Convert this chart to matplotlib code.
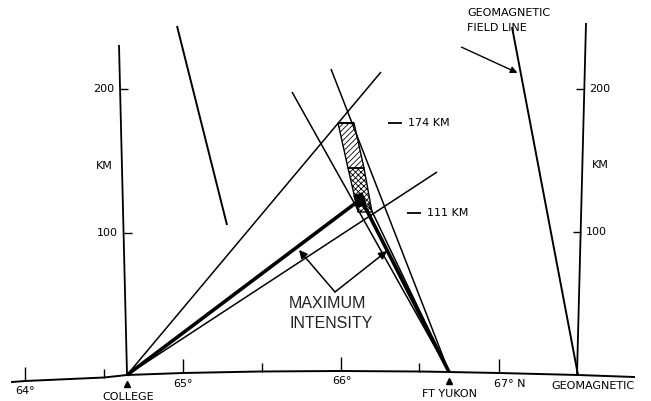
import matplotlib.pyplot as plt
from matplotlib.patches import Polygon

# diagram coordinates (image-like units, y grows downward)
ground_x = [12, 25, 104, 127, 183, 260, 340, 419, 449, 499, 578, 634]
ground_y = [382, 381, 377.5, 375, 373, 371.5, 371, 371.5, 372, 373, 375, 377]

lat_labels = ['64°', '65°', '66°', '67° N']
lat_tick_x = [25, 183, 341, 499]
lat_tick_base = [381, 373, 371, 372.5]
minor_tick_x = [104, 262, 419]
minor_tick_base = [377.5, 371.5, 371.5]

stations = ['COLLEGE', 'FT YUKON']
station_x = [127, 449]
station_y = [375, 372]

# km scales on both sides
km_labels = ['200', '100']
left_axis = [(119, 45), (127, 374)]
left_tick_y = [89, 233]
right_axis = [(586, 23), (577, 375)]
right_tick_y = [89, 232]

# sight lines: (end_x, end_y, thick?)
college_rays = [(381, 72, False), (361, 199, True), (437, 172, False)]
yukon_rays = [(292, 92, False), (331, 69, False), (361, 199, True), (368, 203, False)]

field_line = [(512, 27), (578, 375)]
other_line = [(177, 26), (227, 225)]

# emission region between 174 and 111 km
upper_region = [(338, 123), (354, 123), (364, 168), (348, 168)]
lower_region = [(348, 168), (364, 168), (372, 212), (358, 212)]
blob = [(354, 196), (362, 193), (366, 204), (358, 207)]

alt_labels = ['174 KM', '111 KM']
alt_y = [123, 213]
alt_x = [388, 407]


def line(ax, p, q, lw=1.1):
    ax.plot([p[0], q[0]], [p[1], q[1]], color='black', lw=lw, solid_capstyle='butt')


def axis_x(a, y):
    (x0, y0), (x1, y1) = a
    return x0 + (x1 - x0) * (y - y0) / (y1 - y0)


plt.rcParams['hatch.linewidth'] = 0.6
fig = plt.figure(figsize=(6.51, 4.01), dpi=100)
ax = fig.add_axes([0, 0, 1, 1])
ax.set_xlim(0, 651)
ax.set_ylim(401, 0)
ax.axis('off')

lab = dict(fontsize=8, family='DejaVu Sans', color='black')

# ground
ax.plot(ground_x, ground_y, color='black', lw=1.4)
for x, b, t in zip(lat_tick_x, lat_tick_base, lat_labels):
    line(ax, (x, b), (x, b - 14), lw=1.0)
for x, b in zip(minor_tick_x, minor_tick_base):
    line(ax, (x, b), (x, b - 9), lw=1.0)
ax.text(25, 391, lat_labels[0], ha='center', va='center', **lab)
ax.text(183, 384, lat_labels[1], ha='center', va='center', **lab)
ax.text(342, 381, lat_labels[2], ha='center', va='center', **lab)
ax.text(510, 384, lat_labels[3], ha='center', va='center', **lab)
ax.text(593, 386, 'GEOMAGNETIC', ha='center', va='center', **lab)

for name, x, y, dy in zip(stations, station_x, station_y, [22, 22]):
    ax.plot(x, y + 9, marker='^', ms=5, color='black')
    ax.text(x + 1, y + dy, name, ha='center', va='center', **lab)

# km axes
line(ax, *left_axis, lw=1.3)
for y, t in zip(left_tick_y, km_labels):
    x = axis_x(left_axis, y)
    line(ax, (x, y), (x + 8, y), lw=1.0)
    ax.text(x - 6, y, t, ha='right', va='center', **lab)
ax.text(104, 166, 'KM', ha='center', va='center', **lab)

line(ax, *right_axis, lw=1.3)
for y, t in zip(right_tick_y, km_labels):
    x = axis_x(right_axis, y)
    line(ax, (x - 8, y), (x, y), lw=1.0)
    ax.text(x + 5, y, t, ha='left', va='center', **lab)
ax.text(600, 165, 'KM', ha='center', va='center', **lab)

# rays
for ex, ey, thick in college_rays:
    line(ax, (station_x[0], station_y[0]), (ex, ey), lw=2.6 if thick else 1.1)
for ex, ey, thick in yukon_rays:
    line(ax, (station_x[1], station_y[1]), (ex, ey), lw=2.6 if thick else 1.1)

line(ax, *field_line, lw=1.4)
line(ax, *other_line, lw=1.4)

ax.add_patch(Polygon(upper_region, closed=True, fill=False, hatch='//////', lw=1.0, ec='black'))
ax.add_patch(Polygon(lower_region, closed=True, fill=False, hatch='xxxxxx', lw=1.0, ec='black'))
ax.add_patch(Polygon(blob, closed=True, color='black'))
line(ax, upper_region[0], upper_region[1], lw=1.5)

for t, y, x in zip(alt_labels, alt_y, alt_x):
    line(ax, (x, y), (x + 14, y), lw=1.3)
    ax.text(x + 20, y, t, ha='left', va='center', **lab)

# field line label
ax.text(467, 13, 'GEOMAGNETIC', ha='left', va='center', **lab)
ax.text(467, 28, 'FIELD LINE', ha='left', va='center', **lab)
ax.annotate('', xy=(520, 74), xytext=(459, 46),
            arrowprops=dict(arrowstyle='-|>', color='black', lw=1.0, mutation_scale=10))

# maximum intensity
apex = (335, 292)
ax.annotate('', xy=(299, 250), xytext=apex,
            arrowprops=dict(arrowstyle='-|>', color='black', lw=1.1, mutation_scale=12,
                            shrinkA=0, shrinkB=0))
ax.annotate('', xy=(387, 251), xytext=apex,
            arrowprops=dict(arrowstyle='-|>', color='black', lw=1.1, mutation_scale=12,
                            shrinkA=0, shrinkB=0))
ax.text(327, 304, 'MAXIMUM', ha='center', va='center', fontsize=11.5,
        family='Liberation Sans', color='#222222')
ax.text(331, 324, 'INTENSITY', ha='center', va='center', fontsize=11.5,
        family='Liberation Sans', color='#222222')

fig.savefig('out.png', dpi=100)
